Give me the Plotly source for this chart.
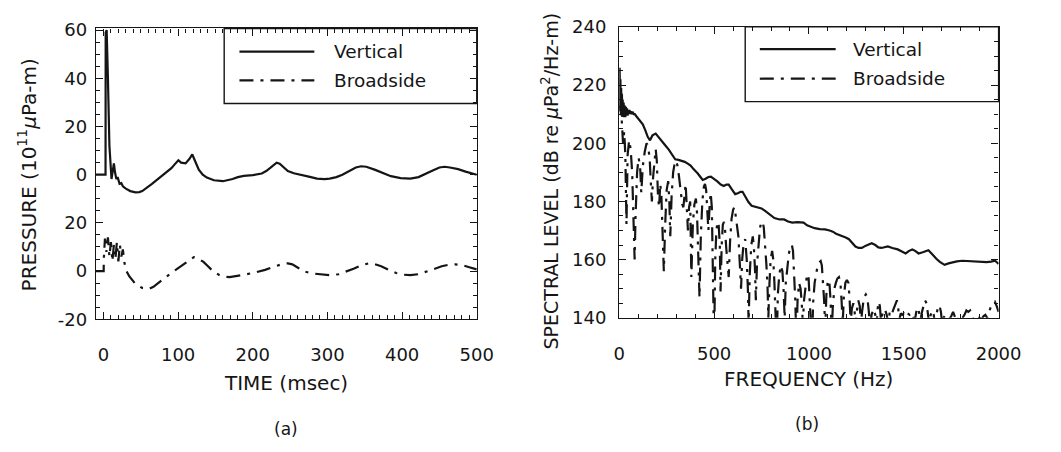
import plotly.graph_objects as go

# ---------------- data ----------------
# (a) pressure time series, time in msec, pressure in 1e11 uPa-m
time_vertical = [-10, 2.8, 3.0, 4.3, 6, 8, 10.8, 12.5, 14, 15.5, 17.3, 19, 21.6, 24, 26, 30, 36, 43, 48, 52,
                 58, 65, 72, 78, 85, 91, 96, 100.4, 104, 110, 115, 119, 123, 127.7, 133, 138.5, 148, 160,
                 173, 180, 188, 200, 212, 218, 223, 228, 232, 236, 241, 247, 255, 265, 275, 286, 296, 303,
                 312, 320, 330, 338, 345, 352, 364, 375, 385, 398, 411, 422, 433, 441, 450, 457, 464, 475,
                 485, 493, 500]
pressure_vertical = [0, 0, 59, 60, 40, 12, -1.8, 3, 4.7, 1, -1.8, -1, -3.8, -3.5, -4.8, -5.8, -6.8, -7.3, -7.2,
                     -6.8, -5.5, -3.8, -2, -0.5, 1, 2.7, 4.5, 6, 5, 4.7, 6.5, 8.4, 5.5, 2.1, 0, -1.2, -2.3,
                     -2.7, -1.8, -1, -0.5, -0.2, 0.5, 1.5, 2.7, 4, 5, 4.6, 3, 1.5, 0.6, 0, -0.8, -1.6, -1.8,
                     -1.6, -1, 0, 1.8, 3, 3.5, 3.3, 2, 0.5, -0.6, -1.4, -1.6, -1, 0.4, 1.7, 3, 3.3, 3, 2.3,
                     1.3, 0.5, 0]
time_broadside = [-10, 0.3, 0.5, 2, 4, 6, 8, 10, 12, 14, 16, 18, 20, 22, 24, 26, 28, 30, 34.5, 43, 52, 60.6,
                  67, 73.6, 82, 91, 100, 108, 115, 121, 127, 134, 140, 147, 155, 162, 169, 180, 190.5, 203,
                  216.5, 226, 234, 242, 247, 253, 260, 268, 280, 292, 303, 315, 325, 335, 345, 355, 362, 372,
                  382, 392, 402, 411, 422, 433, 443, 453, 462, 471, 480, 490, 497, 500]
pressure_broadside = [0, 0, 5, 13.5, 8, 14, 6, 12, 4, 11, 5, 12, 4, 11, 6, 9, 3.8, 0.5, -2.1, -5.4, -7, -7.4,
                      -6.5, -4.7, -2.8, -0.8, 1.2, 3.2, 4.8, 5.8, 5.2, 3.8, 2, -0.1, -1.6, -2.3, -2.5, -2,
                      -1.4, -0.6, 0.5, 1.6, 2.5, 3.1, 3.2, 2.8, 1.5, -0.1, -1, -1.5, -1.7, -1.3, -0.3, 1, 2.4,
                      3.2, 3, 2, 0.5, -0.8, -1.5, -1.7, -1.3, -0.3, 0.9, 2, 2.6, 2.8, 2.5, 1.6, 0.9, 0.7]
VERTICAL_OFFSET = 40  # vertical trace is drawn shifted up on the shared axis
pressure_tickvals = [-20, 0, 20, 40, 60, 80, 100]
pressure_ticktext = ["-20", "0", "20", "0", "20", "40", "60"]

# (b) spectral level, frequency in Hz, level in dB
freq_vertical = [0, 2, 4, 6, 8, 10, 12, 14, 16, 18, 20, 23, 26, 29, 32, 35, 38, 41, 44, 47, 50, 54, 58, 62,
                 66, 70, 76, 82, 90, 100, 110, 124, 137, 150, 162, 175, 192, 205, 218, 240, 261, 280, 295,
                 312, 329, 345, 363, 376, 389, 400, 414, 428, 440, 455, 470, 483, 500, 517, 535, 551, 565,
                 577, 592, 611, 625, 640, 650, 665, 681, 698, 715, 735, 750, 767, 784, 801, 818, 845, 869,
                 890, 912, 940, 972, 990, 1006, 1030, 1057, 1085, 1109, 1126, 1143, 1160, 1177, 1194, 1211,
                 1228, 1245, 1262, 1279, 1300, 1314, 1331, 1350, 1366, 1382, 1400, 1416, 1440, 1468, 1490,
                 1510, 1528, 1545, 1560, 1578, 1600, 1617, 1630, 1645, 1660, 1673, 1690, 1715, 1736, 1758,
                 1780, 1809, 1835, 1861, 1880, 1895, 1915, 1937, 1960, 1981, 1992, 2000]
level_vertical = [215, 226, 212, 222, 210, 219, 209.5, 217, 209, 215, 209, 214, 209, 213, 209, 212.5, 209.5,
                  212, 209.5, 211.5, 210, 211.5, 210, 211, 210, 210.8, 210, 210, 209.3, 208.5, 207.5, 206.5,
                  204.5, 202.2, 201, 202.7, 203.3, 202.2, 201, 199.5, 197.8, 196, 194.5, 194.3, 194, 193.6,
                  192.9, 192.3, 191.3, 190.6, 189.6, 188.4, 187.4, 187.8, 188.4, 188.5, 187.8, 186.9, 185.8,
                  185.3, 185.8, 185.8, 184.3, 182.5, 182.8, 183.3, 183.3, 181.5, 179.8, 178.5, 178.2, 177.7,
                  177.6, 176.8, 176, 175, 174.3, 173.8, 173.8, 173.1, 172.7, 172.9, 172.7, 171.8, 171.3,
                  170.8, 170.5, 170.4, 170, 169.6, 168.9, 168.5, 168, 167.6, 167, 165.8, 164.5, 164, 164,
                  164.8, 165.1, 165.6, 165, 164.2, 164, 164.3, 164.5, 164, 163.5, 162.8, 162.1, 163, 163.5,
                  163, 162.1, 162.5, 163, 163.2, 162.2, 161, 160.2, 159.2, 158.2, 158.7, 159.1, 159.4,
                  159.6, 159.5, 159.4, 159.2, 159.1, 159.2, 159.1, 159.3, 159.6, 159, 158.5]
freq_broadside = [0, 6, 12, 20, 26, 32, 38, 44, 52, 60, 68, 76, 81, 86, 94, 102, 110, 116, 124, 134, 144,
                  152, 160, 166, 172, 178, 186, 192, 198, 204, 210, 216, 222, 228, 235, 242, 250, 258, 264,
                  269, 276, 284, 292, 300, 308, 316, 324, 332, 338, 344, 350, 356, 362, 368, 374, 380, 388,
                  396, 404, 410, 416, 423, 430, 438, 446, 452, 458, 464, 470, 476, 482, 488, 494, 500, 506,
                  512, 518, 524, 530, 534, 540, 546, 552, 558, 564, 570, 577, 584, 592, 600, 606, 612, 620,
                  628, 636, 642, 648, 656, 664, 672, 678, 682, 688, 696, 704, 710, 716, 720, 726, 734, 742,
                  750, 756, 762, 768, 776, 782, 786, 792, 798, 806, 812, 818, 824, 830, 836, 844, 852, 860,
                  866, 872, 878, 886, 894, 902, 910, 916, 922, 928, 934, 940, 948, 956, 962, 968, 974, 982,
                  990, 998, 1004, 1010, 1016, 1022, 1030, 1038, 1046, 1054, 1062, 1068, 1074, 1080, 1086,
                  1092, 1100, 1108, 1114, 1120, 1126, 1134, 1142, 1150, 1158, 1166, 1172, 1178, 1184, 1192,
                  1200, 1208, 1214, 1220, 1226, 1234, 1240, 1246, 1252, 1260, 1268, 1274, 1280, 1290, 1300,
                  1308, 1316, 1322, 1330, 1340, 1350, 1356, 1362, 1368, 1374, 1380, 1390, 1400, 1410, 1418,
                  1426, 1436, 1446, 1456, 1464, 1470, 1476, 1484, 1492, 1500, 1510, 1520, 1530, 1540, 1550,
                  1558, 1566, 1574, 1580, 1588, 1596, 1604, 1612, 1620, 1628, 1634, 1642, 1650, 1658, 1664,
                  1672, 1680, 1688, 1696, 1702, 1710, 1720, 1730, 1740, 1750, 1760, 1770, 1780, 1790, 1800,
                  1810, 1820, 1830, 1840, 1850, 1860, 1870, 1880, 1890, 1900, 1910, 1920, 1930, 1940, 1950,
                  1960, 1970, 1980, 1990, 2000]
level_broadside = [211, 213, 209, 200, 204, 196, 172, 196, 201, 198, 190, 170, 160, 175, 190, 195, 192, 183,
                   192, 197, 200, 199, 195, 187, 180, 188, 195, 198, 194, 182, 178, 186, 182, 168, 156, 172,
                   184, 187, 180, 168, 182, 190, 193, 194, 192, 188, 183, 179, 178, 184, 186, 178, 170, 178,
                   180, 154, 172, 179, 181, 176, 164, 147, 168, 180, 185, 186, 184, 178, 170, 178, 183, 178,
                   160, 130, 160, 170, 173, 172, 165, 149, 165, 172, 173, 170, 164, 158, 154, 166, 174, 177,
                   178, 176, 172, 168, 158, 150, 160, 166, 167, 160, 150, 138, 155, 165, 168, 164, 156, 146,
                   158, 166, 171, 173, 173, 171, 166, 158, 150, 140, 152, 160, 163, 160, 152, 142, 130, 148,
                   155, 158, 156, 150, 140, 152, 158, 162, 164.5, 165, 163, 156, 146, 132, 146, 152, 150,
                   145, 138, 146, 152, 155, 154, 148, 140, 130, 145, 152, 155, 158, 159, 159.5, 158, 153,
                   146, 136, 148, 153, 152, 146, 135, 144, 150, 152, 153.5, 154, 152, 146, 138, 147, 152,
                   153, 152, 147, 138, 143, 145, 143, 137, 142, 146, 144, 138, 142, 147, 148, 147, 142, 136,
                   141, 143, 141, 137, 143, 145.5, 144, 139, 142, 143, 141, 138, 142, 141, 143, 145, 146,
                   144, 139, 141.5, 141, 141.5, 140.5, 141.5, 141, 141.8, 140.5, 139, 142, 143.5, 142, 139,
                   142, 144.5, 146, 145, 142, 138, 141, 142.5, 141, 138, 141, 143.5, 144.3, 142, 138, 140,
                   141, 140, 139.5, 140.5, 142, 140, 138.5, 140, 141, 140, 141, 142.5, 142, 142.5, 141, 139,
                   140, 140.5, 140, 139.5, 140.5, 141, 140, 142, 144, 145, 145.5, 144, 142]

series_names = ["Vertical", "Broadside"]

# ---------------- styling ----------------
INK = "#151515"
FONT = "DejaVu Sans"
DASHDOT = "14px,7px,3px,7px"
W, H = 1061, 452

fig = go.Figure()
fig.add_trace(go.Scatter(x=time_vertical, y=[p + VERTICAL_OFFSET for p in pressure_vertical],
                         mode="lines", name=series_names[0], line=dict(color=INK, width=2.2),
                         xaxis="x", yaxis="y", showlegend=False))
fig.add_trace(go.Scatter(x=time_broadside, y=pressure_broadside, mode="lines", name=series_names[1],
                         line=dict(color=INK, width=2.2, dash=DASHDOT), xaxis="x", yaxis="y",
                         showlegend=False))
fig.add_trace(go.Scatter(x=freq_vertical, y=level_vertical, mode="lines", name=series_names[0],
                         line=dict(color=INK, width=2.2), xaxis="x2", yaxis="y2", showlegend=False))
fig.add_trace(go.Scatter(x=freq_broadside, y=level_broadside, mode="lines", name=series_names[1],
                         line=dict(color=INK, width=2.2, dash=DASHDOT), xaxis="x2", yaxis="y2",
                         showlegend=False))


def axis_style(minor_dtick, standoff):
    return dict(showline=True, linecolor=INK, linewidth=1.4, mirror="allticks", ticks="inside",
                ticklen=7, tickwidth=1.3, tickcolor=INK, showgrid=False, zeroline=False,
                tickfont=dict(family=FONT, size=18, color=INK), ticklabelstandoff=standoff,
                minor=dict(ticks="inside", ticklen=4, tickwidth=1, tickcolor=INK, dtick=minor_dtick))


fig.update_layout(
    width=W, height=H, margin=dict(l=0, r=0, t=0, b=0), showlegend=False,
    paper_bgcolor="white", plot_bgcolor="white", font=dict(family=FONT, color=INK),
    xaxis=dict(domain=[92.5 / W, 484 / W], range=[-10, 500], tick0=0, dtick=100, anchor="y",
               **axis_style(10, 19)),
    yaxis=dict(domain=[1 - 323.3 / H, 1 - 18.3 / H], range=[-20, 100.7], tickmode="array",
               tickvals=pressure_tickvals, ticktext=pressure_ticktext, anchor="x", **axis_style(5, 4)),
    xaxis2=dict(domain=[630.5 / W, 1020.5 / W], range=[0, 2000], tick0=0, dtick=500, anchor="y2",
                **axis_style(100, 19)),
    yaxis2=dict(domain=[1 - 321.7 / H, 1 - 16.7 / H], range=[140, 240], tick0=140, dtick=20,
                anchor="x2", **axis_style(5, 8)),
)

# axis titles and panel captions
annots = [
    dict(text="TIME (msec)", x=288 / W, y=1 - 390 / H, size=20, angle=0),
    dict(text="FREQUENCY (Hz)", x=825.5 / W, y=1 - 386 / H, size=20, angle=0),
    dict(text="PRESSURE (10<sup>11</sup><i>μ</i>Pa-m)", x=22 / W, y=1 - 172 / H, size=20, angle=-90),
    dict(text="SPECTRAL LEVEL (dB re <i>μ</i>Pa<sup>2</sup>/Hz-m)", x=559 / W, y=1 - 178 / H, size=19,
         angle=-90),
    dict(text="(a)", x=288 / W, y=1 - 438 / H, size=17, angle=0),
    dict(text="(b)", x=823 / W, y=1 - 433 / H, size=17, angle=0),
]
for a in annots:
    fig.add_annotation(text=a["text"], x=a["x"], y=a["y"], xref="paper", yref="paper",
                       xanchor="center", yanchor="middle", textangle=a["angle"], showarrow=False,
                       font=dict(family=FONT, size=a["size"], color=INK))

# hand-drawn style legends (long line samples as in the reference)
legend_specs = [
    dict(xd="x domain", yd="y domain", box_x0=0.3367, box_y0=0.742, lx0=0.3768, lx1=0.5734, tx=0.6194,
         rows=[0.92, 0.8216]),
    dict(xd="x2 domain", yd="y2 domain", box_x0=0.332, box_y0=0.7433, lx0=0.3705, lx1=0.5705, tx=0.6115,
         rows=[0.9236, 0.822]),
]
for spec in legend_specs:
    fig.add_shape(type="rect", xref=spec["xd"], yref=spec["yd"], x0=spec["box_x0"], x1=1,
                  y0=spec["box_y0"], y1=1, line=dict(color=INK, width=1.4), fillcolor="white",
                  layer="below")
    for name, ry, dash in zip(series_names, spec["rows"], ["solid", DASHDOT]):
        fig.add_shape(type="line", xref=spec["xd"], yref=spec["yd"], x0=spec["lx0"], x1=spec["lx1"],
                      y0=ry, y1=ry, line=dict(color=INK, width=2.2, dash=dash))
        fig.add_annotation(text=name, xref=spec["xd"], yref=spec["yd"], x=spec["tx"], y=ry,
                           xanchor="left", yanchor="middle", showarrow=False,
                           font=dict(family=FONT, size=18.5, color=INK))

fig.write_html("out.html")
